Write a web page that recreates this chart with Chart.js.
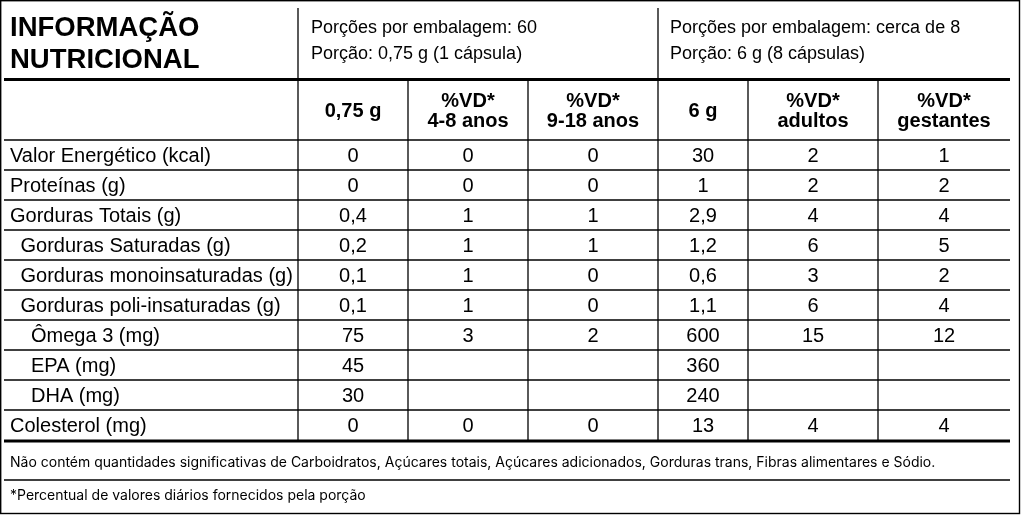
<!DOCTYPE html>
<html>
<head>
<meta charset="utf-8">
<script src="https://cdn.jsdelivr.net/npm/chart.js@4.4.0/dist/chart.umd.min.js"></script>
<style>
  html, body { margin: 0; padding: 0; background: #fff; }
  #wrap { width: 1021px; height: 515px; }
</style>
</head>
<body>
<div id="wrap"><canvas id="nutritionTable" width="1021" height="515"></canvas></div>
<script>
// Table content
const title = ['INFORMAÇÃO', 'NUTRICIONAL'];
const servingSmall = ['Porções por embalagem: 60', 'Porção: 0,75 g (1 cápsula)'];
const servingLarge = ['Porções por embalagem: cerca de 8', 'Porção: 6 g (8 cápsulas)'];
const columnHeaders = [['0,75 g'], ['%VD*', '4-8 anos'], ['%VD*', '9-18 anos'], ['6 g'], ['%VD*', 'adultos'], ['%VD*', 'gestantes']];
const nutrients = ['Valor Energético (kcal)', 'Proteínas (g)', 'Gorduras Totais (g)', 'Gorduras Saturadas (g)',
  'Gorduras monoinsaturadas (g)', 'Gorduras poli-insaturadas (g)', 'Ômega 3 (mg)', 'EPA (mg)', 'DHA (mg)', 'Colesterol (mg)'];
const nutrientLevel = [0, 0, 0, 1, 1, 1, 2, 2, 2, 0];
const amountSmall = ['0', '0', '0,4', '0,2', '0,1', '0,1', '75', '45', '30', '0'];
const vdKids = ['0', '0', '1', '1', '1', '1', '3', '', '', '0'];
const vdTeens = ['0', '0', '1', '1', '0', '0', '2', '', '', '0'];
const amountLarge = ['30', '1', '2,9', '1,2', '0,6', '1,1', '600', '360', '240', '13'];
const vdAdults = ['2', '2', '4', '6', '3', '6', '15', '', '', '4'];
const vdPregnant = ['1', '2', '4', '5', '2', '4', '12', '', '', '4'];
const footnotes = ['Não contém quantidades significativas de Carboidratos, Açúcares totais, Açúcares adicionados, Gorduras trans, Fibras alimentares e Sódio.',
  '*Percentual de valores diários fornecidos pela porção'];

// Layout (in scale units)
const colEdges = [4, 298, 408, 528, 658, 748, 878, 1010];
const headerTop = 4, headerBottom = 80, colHeadBottom = 140, rowHeight = 30;
const footEdges = [441, 480, 513];
const footAnchorY = [461.5, 494.5];
const indentStep = 10.5;

const valueColumns = [amountSmall, vdKids, vdTeens, amountLarge, vdAdults, vdPregnant];
const colCenter = c => (colEdges[c] + colEdges[c + 1]) / 2;
const rowCenter = r => colHeadBottom + rowHeight * (r + 0.5);
const bodyFont = '20px "Liberation Sans", Arial, sans-serif';
const boldFont = 'bold 20px "Liberation Sans", Arial, sans-serif';

const datasets = [];
// title block
datasets.push({ texts: [title], font: 'bold 27.5px "Liberation Sans", Arial, sans-serif', size: 27.5, lh: 32, align: 'left',
  data: [{ x: colEdges[0] + 6, y: (headerTop + headerBottom) / 2 }] });
// serving info
datasets.push({ texts: [servingSmall, servingLarge], font: '18px "Liberation Sans", Arial, sans-serif', size: 18, lh: 26, align: 'left',
  data: [{ x: colEdges[1] + 13, y: (headerTop + headerBottom) / 2 - 2.5 }, { x: colEdges[4] + 12, y: (headerTop + headerBottom) / 2 - 2.5 }] });
// column headers
datasets.push({ texts: columnHeaders, font: boldFont, size: 19, lh: 20, align: 'center',
  data: columnHeaders.map((h, c) => ({ x: colCenter(c + 1), y: (headerBottom + colHeadBottom) / 2 + 0.5 })) });
// nutrient names
datasets.push({ texts: nutrients.map(n => [n]), font: bodyFont, size: 19.5, lh: 20, align: 'left',
  data: nutrients.map((n, r) => ({ x: colEdges[0] + 6 + nutrientLevel[r] * indentStep, y: rowCenter(r) })) });
// values
valueColumns.forEach((vals, c) => {
  datasets.push({ texts: vals.map(v => [v]), font: bodyFont, size: 19.5, lh: 20, align: 'center',
    data: vals.map((v, r) => ({ x: colCenter(c + 1), y: rowCenter(r) })) });
});
// footnotes
datasets.push({ texts: footnotes.map(f => [f]), font: '14px Inter, "Noto Sans", sans-serif', size: 14, lh: 16, align: 'left',
  data: footnotes.map((f, i) => ({ x: colEdges[0] + 6, y: footAnchorY[i] })) });

datasets.forEach(ds => { ds.pointRadius = 0; ds.pointHoverRadius = 0; });

// Grid lines and cell texts
const tablePlugin = {
  id: 'tablePlugin',
  beforeDatasetsDraw(chart) {
    const { ctx, scales: { x, y } } = chart;
    const line = (x1, y1, x2, y2, w) => {
      ctx.lineWidth = w;
      ctx.beginPath();
      ctx.moveTo(x.getPixelForValue(x1), y.getPixelForValue(y1));
      ctx.lineTo(x.getPixelForValue(x2), y.getPixelForValue(y2));
      ctx.stroke();
    };
    ctx.save();
    ctx.strokeStyle = '#000';
    // outer frame
    ctx.lineWidth = 1.4;
    ctx.strokeRect(x.getPixelForValue(0.7), y.getPixelForValue(0.7),
      x.getPixelForValue(1019.5) - x.getPixelForValue(0.7), y.getPixelForValue(513.5) - y.getPixelForValue(0.7));
    // header separators
    line(colEdges[1], 8, colEdges[1], headerBottom, 1.3);
    line(colEdges[4], 8, colEdges[4], headerBottom, 1.3);
    line(colEdges[0], headerBottom - 0.5, colEdges[7], headerBottom - 0.5, 3);
    // body columns
    for (let c = 1; c < colEdges.length - 1; c++) line(colEdges[c], headerBottom, colEdges[c], footEdges[0], 1.3);
    // body rows
    for (let r = 0; r < nutrients.length; r++) line(colEdges[0], colHeadBottom + r * rowHeight, colEdges[7], colHeadBottom + r * rowHeight, 1.3);
    line(colEdges[0], footEdges[0], colEdges[7], footEdges[0], 3);
    line(colEdges[0], footEdges[1], colEdges[7], footEdges[1], 1.3);
    ctx.restore();
  },
  afterDatasetsDraw(chart) {
    const ctx = chart.ctx;
    ctx.save();
    ctx.fillStyle = '#000';
    ctx.textBaseline = 'alphabetic';
    chart.data.datasets.forEach((ds, i) => {
      const meta = chart.getDatasetMeta(i);
      ctx.font = ds.font;
      ctx.textAlign = ds.align;
      meta.data.forEach((pt, j) => {
        const lines = ds.texts[j];
        lines.forEach((t, k) => {
          const by = pt.y + (k - (lines.length - 1) / 2) * ds.lh + ds.size * 0.36;
          ctx.fillText(t, pt.x, by);
        });
      });
    });
    ctx.restore();
  }
};

new Chart(document.getElementById('nutritionTable'), {
  type: 'scatter',
  data: { datasets: datasets },
  options: {
    responsive: false,
    animation: false,
    layout: { padding: 0 },
    plugins: { legend: { display: false }, tooltip: { enabled: false } },
    scales: {
      x: { type: 'linear', min: 0, max: 1021, display: false },
      y: { type: 'linear', min: 0, max: 515, reverse: true, display: false }
    }
  },
  plugins: [tablePlugin]
});
</script>
</body>
</html>
